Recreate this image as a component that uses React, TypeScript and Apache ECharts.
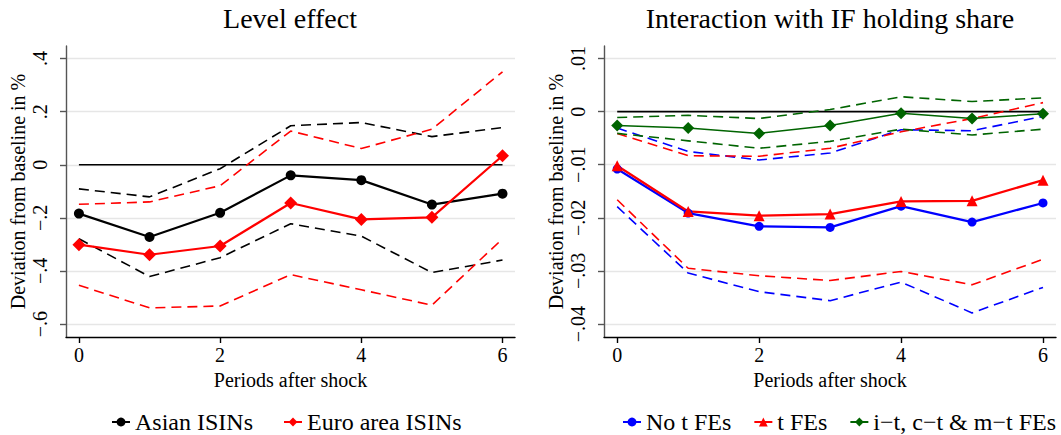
import React, { useEffect, useRef } from "react";
import * as echarts from "echarts";

const FONT = "Liberation Serif";

const periods = [0, 1, 2, 3, 4, 5, 6];
const zeroLineX = [0, 6];
const zeroLineY = [0, 0];
const xTicks = [0, 2, 4, 6];

// Left panel: Level effect
const leftTicks = [-0.6, -0.4, -0.2, 0, 0.2, 0.4];
const leftTickLabels = ["\u2212.6", "\u2212.4", "\u2212.2", "0", ".2", ".4"];
const asianCoef = [-0.184, -0.272, -0.181, -0.04, -0.058, -0.15, -0.109];
const asianUpper = [-0.091, -0.121, -0.015, 0.147, 0.159, 0.106, 0.14];
const asianLower = [-0.279, -0.421, -0.35, -0.222, -0.269, -0.406, -0.359];
const euroCoef = [-0.301, -0.339, -0.306, -0.144, -0.206, -0.198, 0.034];
const euroUpper = [-0.149, -0.14, -0.079, 0.127, 0.061, 0.134, 0.35];
const euroLower = [-0.454, -0.539, -0.532, -0.414, -0.471, -0.529, -0.279];

// Right panel: Interaction with IF holding share
const rightTicks = [-0.04, -0.03, -0.02, -0.01, 0, 0.01];
const rightTickLabels = ["\u2212.04", "\u2212.03", "\u2212.02", "\u2212.01", "0", ".01"];
const noFeCoef = [-0.0108, -0.0191, -0.0216, -0.0218, -0.0178, -0.0208, -0.0172];
const noFeUpper = [-0.0031, -0.0075, -0.0091, -0.0078, -0.0034, -0.0036, -0.0009];
const noFeLower = [-0.0179, -0.0304, -0.0339, -0.0356, -0.0321, -0.0379, -0.0331];
const tFeCoef = [-0.0102, -0.0188, -0.0196, -0.0193, -0.0169, -0.0168, -0.0129];
const tFeUpper = [-0.0041, -0.0083, -0.0084, -0.0069, -0.0038, -0.0013, 0.0017];
const tFeLower = [-0.0166, -0.0295, -0.0309, -0.0318, -0.0301, -0.0326, -0.0278];
const allFeCoef = [-0.0026, -0.0031, -0.0041, -0.0026, -0.0003, -0.0013, -0.0004];
const allFeUpper = [-0.0011, -0.0007, -0.0013, 0.0004, 0.0028, 0.0019, 0.0026];
const allFeLower = [-0.0041, -0.0055, -0.0069, -0.0056, -0.0033, -0.0044, -0.0033];

const pairs = (xs: number[], ys: number[]) => xs.map((x, i) => [x, ys[i]]);

const labelFor = (ticks: number[], labels: string[]) => (v: number) => {
  const i = ticks.findIndex((t) => Math.abs(t - v) < 1e-9);
  return i >= 0 ? labels[i] : "";
};

const BLACK = "#000000";
const RED = "#ff0000";
const BLUE = "#0000ff";
const GREEN = "#006400";

function dashed(name: string, idx: number, ys: number[], color: string) {
  return {
    name,
    type: "line",
    xAxisIndex: idx,
    yAxisIndex: idx,
    data: pairs(periods, ys),
    showSymbol: false,
    symbol: "none",
    lineStyle: { color, width: 1.6, type: [10, 6] },
    itemStyle: { color },
    z: 3,
  };
}

function solid(name: string, idx: number, ys: number[], color: string, symbol: string, size: number, width: number) {
  return {
    name,
    type: "line",
    xAxisIndex: idx,
    yAxisIndex: idx,
    data: pairs(periods, ys),
    symbol,
    symbolSize: size,
    lineStyle: { color, width },
    itemStyle: { color },
    z: 5,
  };
}

function zero(idx: number) {
  return {
    name: "zero" + idx,
    type: "line",
    xAxisIndex: idx,
    yAxisIndex: idx,
    data: pairs(zeroLineX, zeroLineY),
    symbol: "none",
    lineStyle: { color: BLACK, width: 1.6 },
    z: 2,
  };
}

function xAxisCfg(idx: number, min: number, max: number) {
  return {
    type: "value",
    gridIndex: idx,
    min,
    max,
    name: "Periods after shock",
    nameLocation: "middle",
    nameGap: 30,
    nameTextStyle: { fontSize: 20, fontFamily: FONT, color: "#000" },
    axisLine: { show: true, onZero: false, lineStyle: { color: "#000", width: 1.4 } },
    axisTick: { show: true, length: 6, customValues: xTicks, lineStyle: { color: "#000", width: 1.4 } },
    axisLabel: { customValues: xTicks, fontSize: 20, fontFamily: FONT, color: "#000", margin: 8 },
    splitLine: { show: false },
  };
}

function yAxisCfg(idx: number, min: number, max: number, ticks: number[], labels: string[]) {
  return {
    type: "value",
    gridIndex: idx,
    min,
    max,
    name: "Deviation from baseline in %",
    nameLocation: "middle",
    nameGap: 38,
    nameTextStyle: { fontSize: 20, fontFamily: FONT, color: "#000" },
    axisLine: { show: true, onZero: false, lineStyle: { color: "#555", width: 1.4 } },
    axisTick: { show: true, length: 6, customValues: ticks, lineStyle: { color: "#555", width: 1.4 } },
    axisLabel: {
      customValues: ticks,
      rotate: 90,
      fontSize: 20,
      fontFamily: FONT,
      color: "#000",
      margin: 16,
      formatter: labelFor(ticks, labels),
    },
    splitLine: { show: true, lineStyle: { color: "#e6e6e6", width: 1.4 } },
  };
}

export default function App() {
  const ref = useRef<HTMLDivElement>(null);
  useEffect(() => {
    if (!ref.current) return;
    const chart = echarts.init(ref.current, undefined, { renderer: "svg" });
    chart.setOption({
      animation: false,
      backgroundColor: "#ffffff",
      textStyle: { fontFamily: FONT },
      grid: [
        { left: 66, right: 546, top: 46, bottom: 98, containLabel: false },
        { left: 604, right: 5, top: 46, bottom: 98, containLabel: false },
      ],
      xAxis: [xAxisCfg(0, -0.183, 6.177), xAxisCfg(1, -0.186, 6.183)],
      yAxis: [
        yAxisCfg(0, -0.6488, 0.4473, leftTicks, leftTickLabels),
        yAxisCfg(1, -0.04244, 0.01236, rightTicks, rightTickLabels),
      ],
      legend: [
        {
          data: ["Asian ISINs", "Euro area ISINs"],
          left: 106,
          top: 403,
          itemGap: 30,
          itemWidth: 18,
          itemHeight: 11,
          textStyle: { fontSize: 24, fontFamily: FONT, color: "#000", lineHeight: 28 },
        },
        {
          data: ["No t FEs", "t FEs", "i\u2212t, c\u2212t & m\u2212t FEs"],
          left: 617,
          top: 403,
          itemGap: 22,
          itemWidth: 18,
          itemHeight: 11,
          textStyle: { fontSize: 24, fontFamily: FONT, color: "#000", lineHeight: 28 },
        },
      ],
      graphic: [
        {
          type: "text",
          x: 290,
          y: 18,
          style: {
            text: "Level effect",
            fontSize: 28,
            fontFamily: FONT,
            fill: "#000",
            textAlign: "center",
            textVerticalAlign: "middle",
            align: "center",
            verticalAlign: "middle",
          },
        },
        {
          type: "text",
          x: 830,
          y: 18,
          style: {
            text: "Interaction with IF holding share",
            fontSize: 28,
            fontFamily: FONT,
            fill: "#000",
            textAlign: "center",
            textVerticalAlign: "middle",
            align: "center",
            verticalAlign: "middle",
          },
        },
      ],
      series: [
        zero(0),
        dashed("asianUpper", 0, asianUpper, BLACK),
        dashed("asianLower", 0, asianLower, BLACK),
        dashed("euroUpper", 0, euroUpper, RED),
        dashed("euroLower", 0, euroLower, RED),
        solid("Asian ISINs", 0, asianCoef, BLACK, "circle", 10, 2.2),
        solid("Euro area ISINs", 0, euroCoef, RED, "diamond", 13, 2.2),
        zero(1),
        dashed("noFeUpper", 1, noFeUpper, BLUE),
        dashed("noFeLower", 1, noFeLower, BLUE),
        dashed("tFeUpper", 1, tFeUpper, RED),
        dashed("tFeLower", 1, tFeLower, RED),
        dashed("allFeUpper", 1, allFeUpper, GREEN),
        dashed("allFeLower", 1, allFeLower, GREEN),
        solid("No t FEs", 1, noFeCoef, BLUE, "circle", 9, 2.2),
        solid("t FEs", 1, tFeCoef, RED, "triangle", 11, 2.2),
        solid("i\u2212t, c\u2212t & m\u2212t FEs", 1, allFeCoef, GREEN, "diamond", 12, 1.5),
      ],
    });
    return () => chart.dispose();
  }, []);
  return <div ref={ref} style={{ width: 1061, height: 435, position: "absolute", left: 0, top: 0 }} />;
}
